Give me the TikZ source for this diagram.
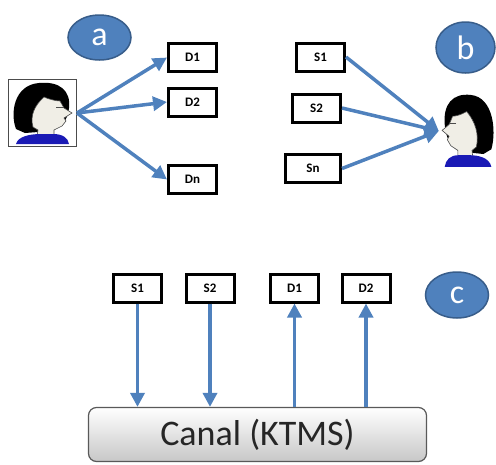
\documentclass[tikz,border=0pt]{standalone}
\usepackage{fontspec}
\setmainfont{Carlito}
\usetikzlibrary{arrows.meta,shapes.geometric}
\definecolor{flowblue}{RGB}{79,129,189}
\definecolor{flowedge}{RGB}{56,93,138}
\definecolor{skin}{RGB}{240,238,230}
\definecolor{shirt}{RGB}{26,26,181}
\tikzset{
  tag/.style={ellipse,draw=flowedge,line width=1.5pt,fill=flowblue,text=white,
    font=\fontsize{34}{34}\selectfont,minimum width=63pt,minimum height=45pt,inner sep=0pt},
  unit/.style={draw=black,line width=3pt,fill=white,font=\fontsize{13}{13}\selectfont\bfseries,
    minimum width=48pt,minimum height=28pt,inner sep=0pt},
  flow/.style={draw=flowblue,line width=3.5pt,-{Triangle[length=14pt,width=14pt]}},
  person/.pic={
    \fill (3,46) .. controls (-3,30) and (1,2) .. (26,0) .. controls (47,-2) and (58,8) .. (56,25)
      .. controls (55,37) and (48,45) .. (38,48) -- (12,50) -- cycle;
    \filldraw[fill=skin,draw=black!70,line width=0.6pt] (20,44) .. controls (17,33) and (21,23) .. (31,14)
      .. controls (38,17) and (44,18) .. (47,18) -- (51,25) -- (59,30) -- (51,35) -- (53,38)
      -- (49,43) -- (41,47) -- (41,53) -- (24,53) -- (25,47) -- cycle;
    \draw[black!70,line width=1pt] (43,24) -- (51,24);
    \fill[shirt] (3,61) .. controls (5,53) and (18,51) .. (28,51) -- (40,51)
      .. controls (50,51) and (55,55) .. (56,61) -- cycle;
  }
}
\begin{document}
\begin{tikzpicture}[x=1pt,y=-1pt]
  \useasboundingbox (0,0) rectangle (496,464);

  % sender to several receivers
  \node[tag] (taga) at (99.5,37.5) {a};
  \node[draw=black!70,line width=1pt,minimum width=68pt,minimum height=67pt,inner sep=0pt] (you) at (42.5,113) {};
  \pic at (13,83) {person};
  \foreach \n/\y/\lab in {d1/57.5/D1, d2/102/D2, dn/179.5/Dn}
    \node[unit] (\n) at (192.5,\y) {\lab};
  \foreach \n in {d1,d2,dn}
    \draw[flow] (you.east) -- (\n.west);

  % several senders to one receiver
  \node[tag,minimum width=59pt,minimum height=51pt] (tagb) at (465.5,47.5) {b};
  \node[minimum width=54pt,minimum height=74pt,inner sep=0pt] (me) at (466,131) {};
  \pic[xscale=-0.88,yscale=1.18] at (494,95) {person};
  \node[unit] (s1) at (320.5,57) {S1};
  \node[unit] (s2) at (316.5,108) {S2};
  \node[unit,minimum width=55pt] (sn) at (313,168.5) {Sn};
  \foreach \n in {s1,s2,sn}
    \draw[flow] (\n.east) -- (me.west);

  % shared channel
  \node[tag,minimum height=46pt] (tagc) at (457,295) {c};
  \node[draw=black!65,line width=1.2pt,rounded corners=8pt,top color=white,bottom color=black!22,
    text=black!85,minimum width=338pt,minimum height=54pt,font=\fontsize{36}{36}\selectfont] (canal) at (257.5,434.5) {Canal (KTMS)};
  \foreach \n/\x/\lab in {cs1/137.5/S1, cs2/210/S2, cd1/294.5/D1, cd2/366/D2}
    \node[unit] (\n) at (\x,288) {\lab};
  \foreach \n in {cs1,cs2}
    \draw[flow] (\n) -- (\n |- canal.north);
  \foreach \n in {cd1,cd2}
    \draw[flow] (\n |- canal.north) -- (\n);
\end{tikzpicture}
\end{document}
